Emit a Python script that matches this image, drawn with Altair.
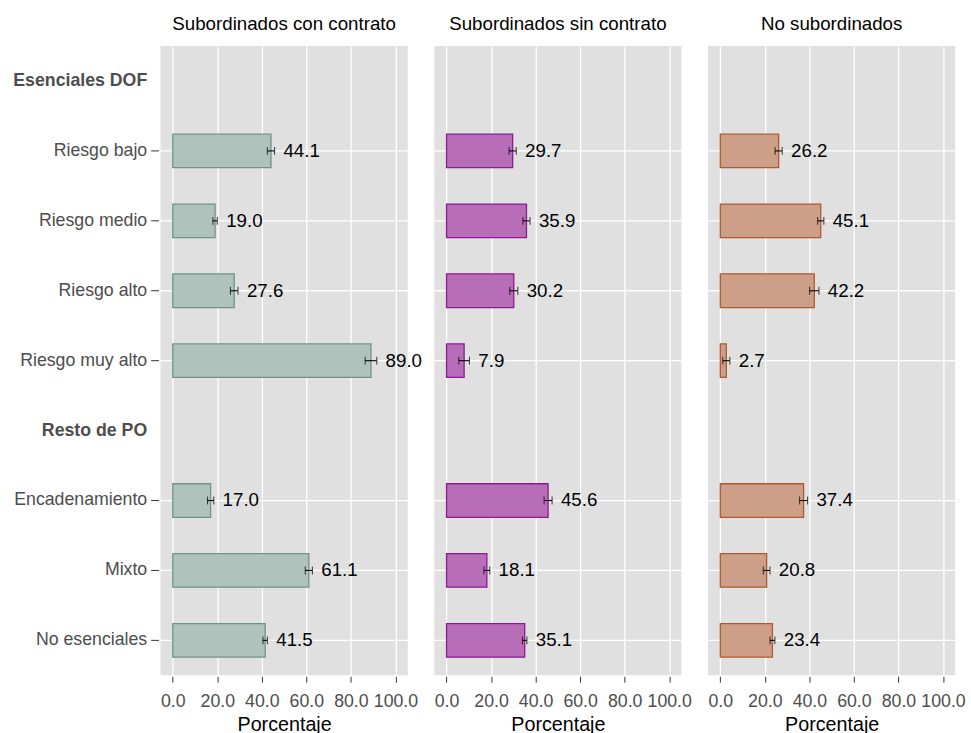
import altair as alt
import pandas as pd

# Row order on the y axis (two bold group headers without bars)
rows = [
    "Esenciales DOF", "Riesgo bajo", "Riesgo medio", "Riesgo alto", "Riesgo muy alto",
    "Resto de PO", "Encadenamiento", "Mixto", "No esenciales",
]
headers = ["Esenciales DOF", "Resto de PO"]
categories = [
    "Riesgo bajo", "Riesgo medio", "Riesgo alto", "Riesgo muy alto",
    "Encadenamiento", "Mixto", "No esenciales",
]

panels = ["Subordinados con contrato", "Subordinados sin contrato", "No subordinados"]

con_contrato = [44.1, 19.0, 27.6, 89.0, 17.0, 61.1, 41.5]
con_contrato_err = [1.6, 1.0, 1.7, 2.6, 1.4, 1.6, 1.0]

sin_contrato = [29.7, 35.9, 30.2, 7.9, 45.6, 18.1, 35.1]
sin_contrato_err = [1.6, 1.6, 1.8, 2.4, 1.8, 1.3, 1.0]

no_subordinados = [26.2, 45.1, 42.2, 2.7, 37.4, 20.8, 23.4]
no_subordinados_err = [1.6, 1.4, 2.1, 1.6, 1.8, 1.5, 1.1]

fills = ["#afc2bb", "#b86db8", "#cd9f88"]
strokes = ["#6e9484", "#8b1a8f", "#b0582e"]

FONT = "Liberation Sans"
header_test = " || ".join(f"datum.value == '{h}'" for h in headers)


def panel(title, values, errs, fill, stroke, first):
    df = pd.DataFrame({
        "cat": categories,
        "pct": values,
        "lo": [v - e for v, e in zip(values, errs)],
        "hi": [v + e for v, e in zip(values, errs)],
    })
    if first:
        y_axis = alt.Axis(
            title=None,
            domain=False,
            grid=False,
            labelFont=FONT,
            labelFontSize=18,
            labelColor="#4d4d4d",
            labelFontWeight=alt.condition(header_test, alt.value("bold"), alt.value("normal")),
            labelPadding=4,
            tickSize=8,
            offset=2,
            tickColor=alt.condition(header_test, alt.value("transparent"), alt.value("#333333")),
        )
    else:
        y_axis = None

    y_scale = alt.Scale(domain=rows, paddingInner=0.52, paddingOuter=0.26)
    y = alt.Y("cat:N", sort=rows, scale=y_scale, axis=y_axis)

    x_scale = alt.Scale(domain=[-5.5, 105.5], nice=False, zero=False)
    x_axis = alt.Axis(
        values=[0, 20, 40, 60, 80, 100],
        format=".1f",
        title="Porcentaje",
        titleFont=FONT,
        titleFontSize=20,
        titleFontWeight="normal",
        titleColor="black",
        titlePadding=4,
        labelFont=FONT,
        labelFontSize=18,
        labelColor="#4d4d4d",
        labelPadding=11,
        domain=False,
        tickSize=6,
        tickColor="#333333",
        offset=1,
        grid=True,
        gridColor="white",
        gridWidth=1.3,
    )

    base = alt.Chart(df)
    hgrid = base.mark_rule(color="white", strokeWidth=1.3).encode(y=y)
    bars = base.mark_bar(fill=fill, stroke=stroke, strokeWidth=1.3).encode(
        x=alt.X("pct:Q", scale=x_scale, axis=x_axis),
        x2=alt.datum(0),
        y=y,
    )
    err = base.mark_rule(color="black", strokeWidth=1.1).encode(x="lo:Q", x2="hi:Q", y=y)
    caps_lo = base.mark_tick(color="black", size=8, thickness=1.1).encode(x="lo:Q", y=y)
    caps_hi = base.mark_tick(color="black", size=8, thickness=1.1).encode(x="hi:Q", y=y)
    labels = base.mark_text(
        align="left", baseline="middle", dx=9, font=FONT, fontSize=19, color="black"
    ).encode(x="hi:Q", y=y, text=alt.Text("pct:Q", format=".1f"))

    return alt.layer(hgrid, bars, err, caps_lo, caps_hi, labels).properties(
        width=251, height=639, title=title
    )


chart = alt.hconcat(
    panel(panels[0], con_contrato, con_contrato_err, fills[0], strokes[0], True),
    panel(panels[1], sin_contrato, sin_contrato_err, fills[1], strokes[1], False),
    panel(panels[2], no_subordinados, no_subordinados_err, fills[2], strokes[2], False),
    spacing=27,
    bounds="flush",
).properties(
    padding={"left": 12, "top": 10, "right": 5, "bottom": 5}
).configure_view(
    fill="#e0e0e0", stroke=None
).configure_title(
    font=FONT, fontSize=19, fontWeight="normal", color="black", offset=12
)

chart.save("out.html", embed_options={"renderer": "svg", "actions": False})
